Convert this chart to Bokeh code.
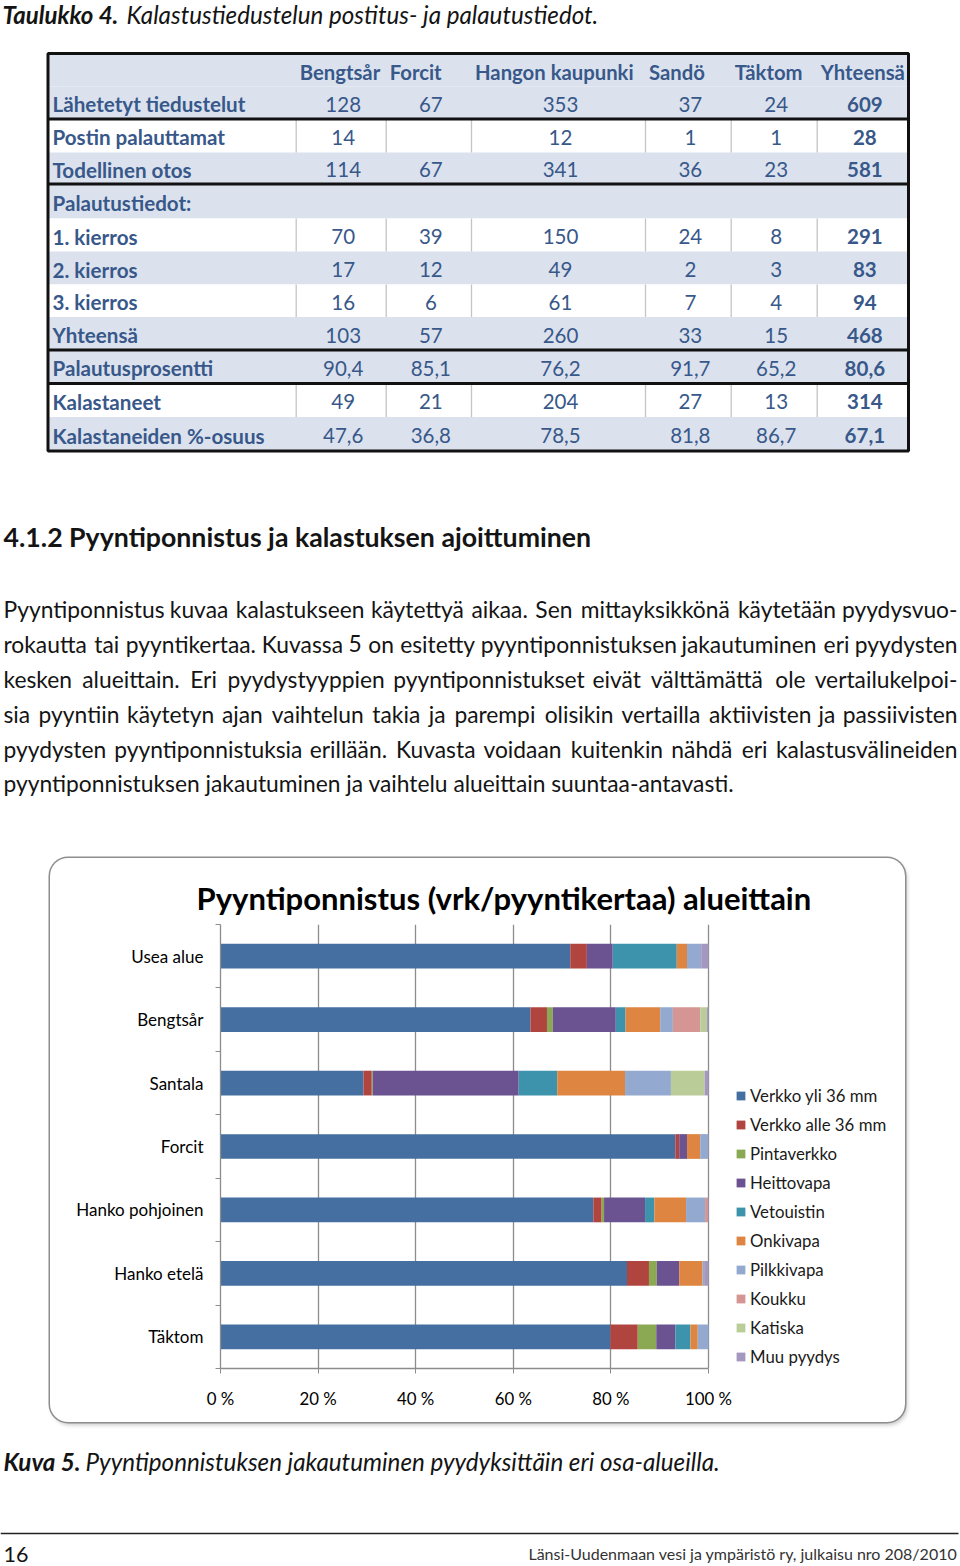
from bokeh.plotting import figure
from bokeh.models import Range1d, FixedTicker, Legend, LegendItem, ColumnDataSource, Spacer, Title
from bokeh.layouts import column, row
from bokeh.core.properties import value
from bokeh.embed import file_html
from bokeh.resources import INLINE

# ------------------------------------------------------------------ data
caption_bold = "Taulukko 4."
caption_rest = "Kalastustiedustelun postitus- ja palautustiedot."

areas = ["Bengtsår", "Forcit", "Hangon kaupunki", "Sandö", "Täktom", "Yhteensä"]
row_labels = ["Lähetetyt tiedustelut", "Postin palauttamat", "Todellinen otos",
              "Palautustiedot:", "1. kierros", "2. kierros", "3. kierros", "Yhteensä",
              "Palautusprosentti", "Kalastaneet", "Kalastaneiden %-osuus"]
lahetetyt = ["128", "67", "353", "37", "24", "609"]
postin = ["14", "", "12", "1", "1", "28"]
todellinen = ["114", "67", "341", "36", "23", "581"]
palautustiedot = ["", "", "", "", "", ""]
kierros1 = ["70", "39", "150", "24", "8", "291"]
kierros2 = ["17", "12", "49", "2", "3", "83"]
kierros3 = ["16", "6", "61", "7", "4", "94"]
yhteensa = ["103", "57", "260", "33", "15", "468"]
palautusprosentti = ["90,4", "85,1", "76,2", "91,7", "65,2", "80,6"]
kalastaneet = ["49", "21", "204", "27", "13", "314"]
kalastaneiden_osuus = ["47,6", "36,8", "78,5", "81,8", "86,7", "67,1"]
table_values = [lahetetyt, postin, todellinen, palautustiedot, kierros1, kierros2,
                kierros3, yhteensa, palautusprosentti, kalastaneet, kalastaneiden_osuus]

heading = "4.1.2 Pyyntiponnistus ja kalastuksen ajoittuminen"
paragraph = [
    "Pyyntiponnistus kuvaa kalastukseen käytettyä aikaa. Sen mittayksikkönä käytetään pyydysvuo-",
    "rokautta tai pyyntikertaa. Kuvassa 5 on esitetty pyyntiponnistuksen jakautuminen eri pyydysten",
    "kesken alueittain. Eri pyydystyyppien pyyntiponnistukset eivät välttämättä ole vertailukelpoi-",
    "sia pyyntiin käytetyn ajan vaihtelun takia ja parempi olisikin vertailla aktiivisten ja passiivisten",
    "pyydysten pyyntiponnistuksia erillään. Kuvasta voidaan kuitenkin nähdä eri kalastusvälineiden",
    "pyyntiponnistuksen jakautuminen ja vaihtelu alueittain suuntaa-antavasti.",
]

chart_title = "Pyyntiponnistus (vrk/pyyntikertaa) alueittain"
regions = ["Usea alue", "Bengtsår", "Santala", "Forcit", "Hanko pohjoinen", "Hanko etelä", "Täktom"]
gear = ["Verkko yli 36 mm", "Verkko alle 36 mm", "Pintaverkko", "Heittovapa", "Vetouistin",
        "Onkivapa", "Pilkkivapa", "Koukku", "Katiska", "Muu pyydys"]
verkko_yli = [71.6, 63.5, 29.3, 93.2, 76.4, 83.3, 79.9]
verkko_alle = [3.4, 3.4, 1.7, 0.8, 1.7, 4.5, 5.6]
pintaverkko = [0.0, 1.2, 0.2, 0.0, 0.5, 1.6, 3.8]
heittovapa = [5.3, 12.9, 29.9, 1.6, 8.4, 4.6, 3.9]
vetouistin = [13.1, 2.0, 7.9, 0.0, 1.9, 0.0, 3.1]
onkivapa = [2.1, 7.1, 13.9, 2.7, 6.5, 4.8, 1.5]
pilkkivapa = [2.9, 2.6, 9.4, 1.6, 3.9, 0.3, 2.2]
koukku = [0.0, 5.6, 0.0, 0.0, 0.6, 0.0, 0.0]
katiska = [0.0, 1.4, 6.9, 0.0, 0.0, 0.0, 0.0]
muu_pyydys = [1.5, 0.3, 0.8, 0.1, 0.1, 0.9, 0.0]
series = [verkko_yli, verkko_alle, pintaverkko, heittovapa, vetouistin,
          onkivapa, pilkkivapa, koukku, katiska, muu_pyydys]
x_ticks = [0, 20, 40, 60, 80, 100]
x_tick_labels = ["0 %", "20 %", "40 %", "60 %", "80 %", "100 %"]

figure_caption_bold = "Kuva 5."
figure_caption_rest = "Pyyntiponnistuksen jakautuminen pyydyksittäin eri osa-alueilla."
page_number = "16"
footer_text = "Länsi-Uudenmaan vesi ja ympäristö ry, julkaisu nro 208/2010"

# ------------------------------------------------------------------ styles
FONT = value("Lato")
def fs(px):
    return value(f"{px:.2f}px")

TXT = "#141414"
TBL_TXT = "#38588a"
TBL_BLUE = "#dbe2ee"
colors = ["#456fa0", "#b0443f", "#8ba953", "#6b5290", "#3d93ab",
          "#dd8541", "#93a9cf", "#d59593", "#bacc97", "#a498bf"]

W = 960
TOP_H, CH_H, BOT_H = 858, 564, 144
CH_X, CH_W = 50, 855

def page_fig(height, y_top):
    p = figure(width=W, height=height, x_range=Range1d(0, W),
               y_range=Range1d(y_top + height, y_top),
               x_axis_type=None, y_axis_type=None, toolbar_location=None,
               output_backend="svg", min_border=0, outline_line_color=None,
               background_fill_color=None, border_fill_color=None)
    p.grid.visible = False
    return p

# approximate Lato Regular advance widths (em) used to justify the paragraph
_EM = {}
for ch, w in [("a", .51), ("b", .56), ("c", .47), ("d", .56), ("e", .52), ("f", .32),
              ("g", .50), ("h", .56), ("i", .24), ("j", .24), ("k", .50), ("l", .24),
              ("m", .84), ("n", .56), ("o", .56), ("p", .56), ("q", .56), ("r", .36),
              ("s", .42), ("t", .35), ("u", .56), ("v", .50), ("w", .76), ("x", .49),
              ("y", .50), ("z", .45), ("ä", .51), ("ö", .56), ("å", .51), (" ", .26),
              (".", .22), (",", .22), (":", .22), ("-", .34)]:
    _EM[ch] = w
def text_em(s):
    tot = 0.0
    for ch in s:
        if ch in _EM:
            tot += _EM[ch]
        elif ch.isdigit():
            tot += .58
        elif ch.isupper():
            tot += .60
        else:
            tot += .52
    return tot

# ------------------------------------------------------------------ top part
pt = page_fig(TOP_H, 0)

pt.text(x=[2], y=[13.5], text=[caption_bold], text_font=FONT, text_font_size=fs(24.0),
        text_font_style="bold italic", text_baseline="middle", text_color=TXT)
pt.text(x=[126], y=[13.5], text=[caption_rest], text_font=FONT, text_font_size=fs(24.2),
        text_font_style="italic", text_baseline="middle", text_color=TXT)

TBL_L, TBL_R = 47.5, 908.0
row_edges = [53, 86, 118.5, 152, 183.5, 218, 251, 284, 316.5, 349.5, 383, 416.5, 450.5]
row_blue = [True, True, False, True, True, False, True, False, True, True, False, True]
col_edges = [295.7, 385.7, 471.0, 645.0, 730.7, 816.7, 908.0]
thick_y = [118.5, 183.5, 349.5, 383]

pt.quad(left=[TBL_L] * 12, right=[TBL_R] * 12, top=row_edges[:-1], bottom=row_edges[1:],
        fill_color=[TBL_BLUE if b else "white" for b in row_blue], line_color=None)

sx0, sy0, sx1, sy1 = [], [], [], []
for i, b in enumerate(row_blue):
    if not b:
        for c in col_edges[:-1]:
            sx0.append(c); sx1.append(c); sy0.append(row_edges[i]); sy1.append(row_edges[i + 1])
pt.segment(x0=sx0, y0=sy0, x1=sx1, y1=sy1, line_color="#c4c4c4", line_width=1.3)
pt.segment(x0=[TBL_L] * len(thick_y), x1=[TBL_R] * len(thick_y), y0=thick_y, y1=thick_y,
           line_color="#111111", line_width=3)
pt.quad(left=[TBL_L], right=[TBL_R], top=[row_edges[0]], bottom=[row_edges[-1]],
        fill_color=None, line_color="#111111", line_width=3)

centers = [(row_edges[i] + row_edges[i + 1]) / 2 + 1.5 for i in range(12)]
pt.text(x=[c + 3.5 for c in col_edges[:-1]], y=[centers[0]] * 6, text=areas, text_font=FONT,
        text_font_size=fs(20.3), text_font_style="bold", text_baseline="middle", text_color=TBL_TXT)
pt.text(x=[52] * len(row_labels), y=centers[1:], text=row_labels, text_font=FONT,
        text_font_size=fs(20.6), text_font_style="bold", text_baseline="middle", text_color=TBL_TXT)
col_mid = [(col_edges[j] + col_edges[j + 1]) / 2 + 2 for j in range(6)]
vx, vy, vt, bx, by, bt = [], [], [], [], [], []
for i, vals in enumerate(table_values):
    for j, v in enumerate(vals):
        if j == 5:
            bx.append(col_mid[j]); by.append(centers[i + 1]); bt.append(v)
        else:
            vx.append(col_mid[j]); vy.append(centers[i + 1]); vt.append(v)
pt.text(x=vx, y=vy, text=vt, text_font=FONT, text_font_size=fs(20.5), text_align="center",
        text_baseline="middle", text_color=TBL_TXT)
pt.text(x=bx, y=by, text=bt, text_font=FONT, text_font_size=fs(20.5), text_align="center",
        text_font_style="bold", text_baseline="middle", text_color=TBL_TXT)

pt.text(x=[3], y=[536], text=[heading], text_font=FONT, text_font_size=fs(26.7),
        text_font_style="bold", text_baseline="middle", text_color=TXT)

# justified paragraph: words spread evenly between the column edges
P_L, P_R, P_F = 3.0, 957.0, 22.8
line_y = [608, 643, 678, 713, 748, 782]
wx, wy, wt, ex, ey, et = [], [], [], [], [], []
for k, line in enumerate(paragraph):
    if k == len(paragraph) - 1:
        wx.append(P_L); wy.append(line_y[k]); wt.append(line)
        continue
    words = line.split(" ")
    widths = [text_em(w) * P_F for w in words]
    gap = (P_R - P_L - sum(widths)) / (len(words) - 1)
    x = P_L
    for i, (w, wd) in enumerate(zip(words, widths)):
        if i == len(words) - 1:
            ex.append(P_R); ey.append(line_y[k]); et.append(w)
        else:
            wx.append(x); wy.append(line_y[k]); wt.append(w)
        x += wd + gap
pt.text(x=wx, y=wy, text=wt, text_font=FONT, text_font_size=fs(P_F), text_align="left",
        text_baseline="middle", text_color=TXT)
pt.text(x=ex, y=ey, text=et, text_font=FONT, text_font_size=fs(P_F), text_align="right",
        text_baseline="middle", text_color=TXT)

# ------------------------------------------------------------------ chart
BORDER_L = 170          # px from box edge to the 0 % line
BAR_W = 488             # px between 0 % and 100 %
FRAME_W = CH_W - BORDER_L
X_END = 100.0 * FRAME_W / BAR_W
pc = figure(frame_width=FRAME_W, frame_height=444, min_border_left=BORDER_L, min_border_right=0,
            min_border_top=66, min_border_bottom=54,
            x_range=Range1d(0, X_END), y_range=Range1d(len(regions), 0),
            toolbar_location=None, output_backend="svg", outline_line_color=None,
            background_fill_color=None, border_fill_color=None,
            styles={"border-radius": "18px",
                    "box-shadow": "0 0 0 1.5px #8e8e8e, 2px 3px 4px rgba(0,0,0,0.22)"})
pc.title = Title(text=chart_title, align="left", offset=-24, text_font="Lato",
                 text_font_size="31px", text_font_style="bold",
                 text_color="#000000", standoff=16)

totals = [sum(s[i] for s in series) for i in range(len(regions))]
data = {"y": [i + 0.5 for i in range(len(regions))]}
for g, s in zip(gear, series):
    data[g] = [v / t * 100 for v, t in zip(s, totals)]
src = ColumnDataSource(data)
rends = pc.hbar_stack(gear, y="y", height=0.39, fill_color=colors, line_color=None, source=src)

GRID = "#8c8c8c"
pc.xaxis.ticker = FixedTicker(ticks=x_ticks, minor_ticks=[])
pc.xaxis.bounds = (x_ticks[0], x_ticks[-1])
pc.xaxis.major_label_overrides = {t: l for t, l in zip(x_ticks, x_tick_labels)}
pc.xaxis.axis_line_color = GRID
pc.xaxis.axis_line_width = 1.3
pc.xaxis.major_tick_line_color = GRID
pc.xaxis.major_tick_out = 5
pc.xaxis.major_tick_in = 0
pc.xaxis.minor_tick_line_color = None
pc.xaxis.major_label_standoff = 14
pc.xaxis.major_label_text_font = "Lato"
pc.xaxis.major_label_text_font_size = "16.8px"
pc.xaxis.major_label_text_color = "#000000"

cat_centers = [i + 0.5 for i in range(len(regions))]
pc.yaxis.ticker = FixedTicker(ticks=cat_centers, minor_ticks=list(range(len(regions) + 1)))
pc.yaxis.major_label_overrides = {c: r for c, r in zip(cat_centers, regions)}
pc.yaxis.axis_line_color = GRID
pc.yaxis.axis_line_width = 1.3
pc.yaxis.major_tick_line_color = None
pc.yaxis.major_tick_out = 0
pc.yaxis.major_tick_in = 0
pc.yaxis.minor_tick_line_color = GRID
pc.yaxis.minor_tick_out = 5
pc.yaxis.minor_tick_in = 0
pc.yaxis.major_label_standoff = 12
pc.yaxis.major_label_text_font = "Lato"
pc.yaxis.major_label_text_font_size = "17px"
pc.yaxis.major_label_text_color = "#000000"

pc.xgrid.grid_line_color = GRID
pc.xgrid.grid_line_width = 1.3
pc.ygrid.visible = False

legend = Legend(items=[LegendItem(label=g, renderers=[r]) for g, r in zip(gear, rends)],
                location=(BAR_W + 27, 1), orientation="vertical", padding=0, margin=0,
                border_line_color=None, background_fill_alpha=0,
                label_text_font="Lato", label_text_font_size="16.8px",
                label_text_color="#1a1a1a", glyph_width=11, glyph_height=11,
                label_height=22, label_standoff=4, spacing=7)
pc.add_layout(legend, "center")

# ------------------------------------------------------------------ bottom part
pb = page_fig(BOT_H, TOP_H + CH_H)
pb.text(x=[3], y=[1461], text=[figure_caption_bold], text_font=FONT, text_font_size=fs(24.2),
        text_font_style="bold italic", text_baseline="middle", text_color=TXT)
pb.text(x=[85], y=[1461], text=[figure_caption_rest], text_font=FONT, text_font_size=fs(24.2),
        text_font_style="italic", text_baseline="middle", text_color=TXT)
pb.segment(x0=[0], x1=[958], y0=[1533], y1=[1533], line_color="#222222", line_width=1.5)
pb.text(x=[3], y=[1553.5], text=[page_number], text_font=FONT, text_font_size=fs(21.5),
        text_baseline="middle", text_color=TXT)
pb.text(x=[957], y=[1553], text=[footer_text], text_font=FONT, text_font_size=fs(16.0),
        text_align="right", text_baseline="middle", text_color="#333333")

layout = column(pt, row(Spacer(width=CH_X, height=CH_H), pc), pb)
open("out.html", "w").write(file_html(layout, INLINE))
